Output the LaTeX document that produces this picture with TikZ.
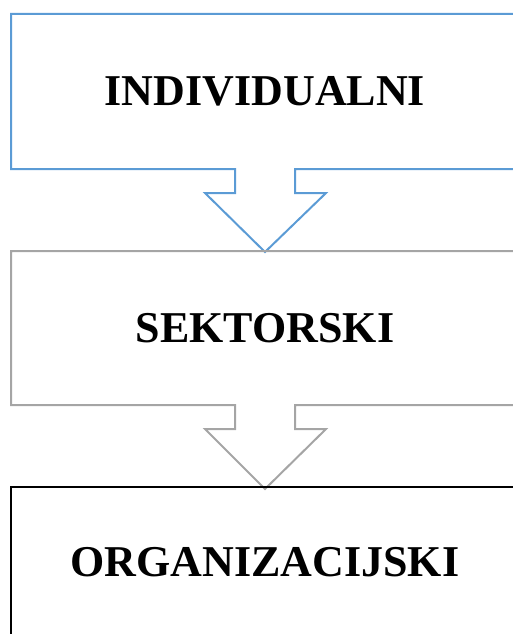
\documentclass[tikz,border=0pt]{standalone}
\usepackage{fontspec}
\setmainfont{Liberation Serif}
\definecolor{boxblue}{HTML}{5B9BD5}
\definecolor{boxgray}{HTML}{A5A5A5}
\begin{document}
\begin{tikzpicture}[x=1pt,y=-1pt,
  outline/.style={line width=2pt, line join=miter},
  label/.style={font=\fontsize{44}{50}\selectfont\bfseries, inner sep=0pt}]
\useasboundingbox (0,0) rectangle (512,634);
% box 1 with arrow
\draw[outline, boxblue] (265,252) -- (205,193) -- (235,193) -- (235,169) -- (11,169) -- (11,14)
  -- (519,14) -- (519,169) -- (295,169) -- (295,193) -- (326,193) -- cycle;
% box 2 with arrow
\draw[outline, boxgray] (265,489) -- (205,429) -- (235,429) -- (235,405) -- (11,405) -- (11,251)
  -- (519,251) -- (519,405) -- (295,405) -- (295,429) -- (326,429) -- cycle;
% box 3
\draw[outline, black] (11,660) -- (11,487) -- (519,487) -- (519,660);
\node[label] (ind) at (265,91) {INDIVIDUALNI};
\node[label] (sek) at (265,328) {SEKTORSKI};
\node[label] (org) at (265,562) {ORGANIZACIJSKI};
\end{tikzpicture}
\end{document}
